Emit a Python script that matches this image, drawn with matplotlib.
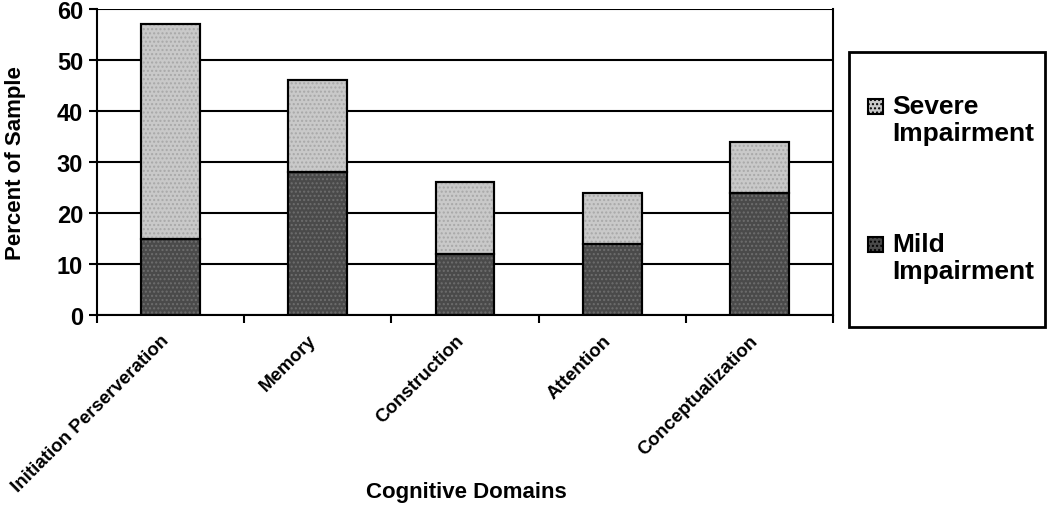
import matplotlib
matplotlib.use("Agg")
import matplotlib.pyplot as plt
import matplotlib.transforms as mtransforms
import numpy as np
from matplotlib.patches import Rectangle

plt.rcParams['font.family'] = ['Liberation Sans', 'DejaVu Sans']

categories = ["Initiation Perserveration", "Memory", "Construction", "Attention", "Conceptualization"]
mild = [15, 28, 12, 14, 24]
severe = [42, 18, 14, 10, 10]
series_labels = ["Severe\nImpairment", "Mild\nImpairment"]

mild_color = "#4a4a4a"
severe_color = "#c9c9c9"

W, H = 1050, 506
fig = plt.figure(figsize=(W/100, H/100), dpi=100)
ax = fig.add_axes([97/W, 1-316/H, (833-97)/W, (316-10)/H])

x = np.arange(len(categories))
w = 0.4
ax.bar(x, mild, width=w, color=mild_color, edgecolor="black", linewidth=1.5, zorder=3)
ax.bar(x, severe, width=w, bottom=mild, color=severe_color, edgecolor="black", linewidth=1.5, zorder=3)
# dotted texture overlay
ax.bar(x, mild, width=w, color="none", edgecolor="#6e6e6e", hatch="....", linewidth=0, zorder=3.5)
ax.bar(x, severe, width=w, bottom=mild, color="none", edgecolor="#a8a8a8", hatch="....", linewidth=0, zorder=3.5)
ax.bar(x, mild, width=w, color="none", edgecolor="black", linewidth=1.5, zorder=4)
ax.bar(x, severe, width=w, bottom=mild, color="none", edgecolor="black", linewidth=1.5, zorder=4)

ax.set_xlim(-0.5, len(categories) - 0.5)
ax.set_ylim(0, 60)
ax.set_yticks(range(0, 61, 10))
ax.yaxis.grid(True, color="black", linewidth=1.5, zorder=0)
ax.set_axisbelow(True)

for s in ["left", "bottom", "right"]:
    ax.spines[s].set_linewidth(1.5)
ax.spines["top"].set_visible(False)

ax.set_xticks(np.arange(-0.5, len(categories)), minor=False)
ax.set_xticklabels([])
ax.set_xticks(x, minor=True)
ax.set_xticklabels(categories, minor=True, rotation=45, ha="right", rotation_mode="anchor",
                   fontsize=13.5, fontweight="bold")
ax.tick_params(axis="x", which="major", length=6, width=1.5, direction="out")
ax.tick_params(axis="x", which="minor", length=0, pad=12)
offset = mtransforms.ScaledTranslation(-10/100, 0, fig.dpi_scale_trans)
for lab in ax.get_xticklabels(minor=True):
    lab.set_transform(lab.get_transform() + offset)
ax.tick_params(axis="y", length=6, width=1.5, direction="out", labelsize=17, pad=4)
for lab in ax.get_yticklabels():
    lab.set_fontweight("bold")

ax.set_ylabel("Percent of Sample", fontsize=16, fontweight="bold", labelpad=22)
fig.text(466/W, 1-493/H, "Cognitive Domains", fontsize=16, fontweight="bold", ha="center", va="center")

# legend box
fig.patches.append(Rectangle((849/W, 1-328/H), (1045-849)/W, (328-53)/H, transform=fig.transFigure,
                             facecolor="white", edgecolor="black", linewidth=2))
legend_colors = [severe_color, mild_color]
legend_tops = [99, 237]
for lbl, col, top in zip(series_labels, legend_colors, legend_tops):
    fig.patches.append(Rectangle((868/W, 1-(top+16)/H), 15/W, 15/H, transform=fig.transFigure,
                                 facecolor=col, edgecolor="black", linewidth=1.5, hatch="...."))
    fig.text(892/W, 1-(top-4)/H, lbl, fontsize=19, fontweight="bold", ha="left", va="top",
             linespacing=1.15)

fig.savefig("out.png", dpi=100)
